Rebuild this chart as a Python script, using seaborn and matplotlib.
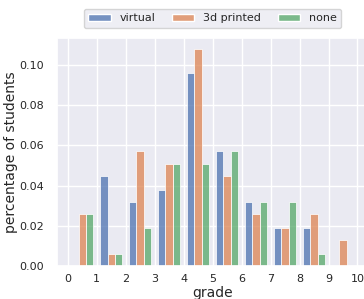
import pandas as pd
import matplotlib
matplotlib.use("Agg")
import matplotlib.pyplot as plt
import seaborn as sns

# share of all students, per grade and preparation method
grades = [0, 1, 2, 3, 4, 5, 6, 7, 8, 9]
methods = ["virtual", "3d printed", "none"]
virtual = [0.0, 0.045, 0.032, 0.038, 0.096, 0.057, 0.032, 0.019, 0.019, 0.0]
printed = [0.026, 0.006, 0.057, 0.051, 0.108, 0.045, 0.026, 0.019, 0.026, 0.013]
none = [0.026, 0.006, 0.019, 0.051, 0.051, 0.057, 0.032, 0.032, 0.006, 0.0]

rows = []
for name, vals in zip(methods, [virtual, printed, none]):
    for g, v in zip(grades, vals):
        rows.append({"grade": g, "method": name, "pct": v})
df = pd.DataFrame(rows)

sns.set_theme(style="darkgrid")
fig = plt.figure(figsize=(3.64, 2.99), dpi=100)
ax = fig.add_axes([0.157, 0.11, 0.854, 0.763])

sns.histplot(data=df, x="grade", hue="method", weights="pct",
             binwidth=1, binrange=(0, 10), multiple="dodge", shrink=0.75,
             hue_order=methods, ax=ax)

ax.set_xticks(range(0, 11))
ax.tick_params(labelsize=8)
ax.tick_params(axis="x", pad=0)
ax.set_xlabel("grade", fontsize=10, labelpad=1)
ax.set_ylabel("percentage of students", fontsize=10, labelpad=1)

sns.move_legend(ax, "lower center", bbox_to_anchor=(0.5, 1.02), ncol=3,
                title=None, frameon=True, fontsize=8, columnspacing=1.5)

fig.savefig("out.png", dpi=100)
